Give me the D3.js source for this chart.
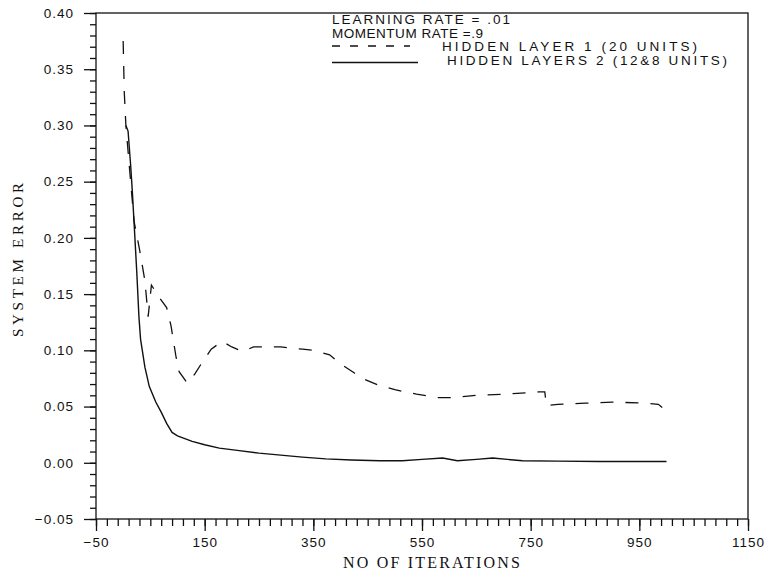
<!DOCTYPE html>
<html>
<head>
<meta charset="utf-8">
<script src="https://cdn.jsdelivr.net/npm/d3@7"></script>
<style>
  body { margin: 0; background: #fff; }
  svg { display: block; }
  .tick text { font-family: "Liberation Sans", Arial, sans-serif; font-size: 13.5px; letter-spacing: 1px; fill: #111; }
  .tick line, .domain { stroke: #111; stroke-width: 1.3; }
</style>
</head>
<body>
<script>
// Hidden layer 1 (20 units) - dashed
const iterH1 = [0, 2, 5, 12, 20, 30, 40, 46, 52, 68, 80, 88, 97, 103, 118, 132, 145, 162, 182, 200, 220, 240, 290, 330, 350, 380, 400, 425, 440, 470, 500, 540, 580, 610, 650, 700, 765, 776, 779, 800, 850, 900, 960, 985, 1000];
const errH1 = [0.375, 0.33, 0.30, 0.26, 0.215, 0.19, 0.162, 0.13, 0.158, 0.146, 0.138, 0.122, 0.095, 0.081, 0.071, 0.079, 0.089, 0.101, 0.108, 0.103, 0.099, 0.103, 0.103, 0.101, 0.100, 0.096, 0.088, 0.080, 0.075, 0.069, 0.065, 0.061, 0.058, 0.058, 0.060, 0.061, 0.063, 0.063, 0.051, 0.052, 0.053, 0.054, 0.053, 0.052, 0.046];

// Hidden layers 2 (12&8 units) - solid
const iterH2 = [5, 9, 14, 17, 20, 25, 29, 32, 40, 48, 60, 70, 80, 90, 100, 127, 150, 177, 210, 250, 290, 330, 373, 420, 472, 514, 550, 588, 615, 650, 680, 735, 800, 877, 1000];
const errH2 = [0.30, 0.295, 0.263, 0.24, 0.214, 0.17, 0.13, 0.11, 0.085, 0.068, 0.054, 0.045, 0.035, 0.027, 0.024, 0.019, 0.016, 0.013, 0.011, 0.0086, 0.0068, 0.005, 0.0035, 0.0025, 0.0018, 0.0018, 0.003, 0.0042, 0.0018, 0.003, 0.0042, 0.0018, 0.0015, 0.0012, 0.0012];

const xMajor = [-50, 150, 350, 550, 750, 950, 1150];
const xMinor = d3.range(-50, 1151, 20);
const yMajor = [-0.05, 0.00, 0.05, 0.10, 0.15, 0.20, 0.25, 0.30, 0.35, 0.40];
const yMinor = d3.range(-5, 41, 1).map(d => d / 100);

const legendLines = ["LEARNING RATE  =  .01", "MOMENTUM  RATE  =.9", "HIDDEN  LAYER  1  (20  UNITS)", "HIDDEN  LAYERS  2  (12&8  UNITS)"];

const W = 771, H = 579;
const margin = { top: 13, right: 23, bottom: 60, left: 96 };

const svg = d3.select("body").append("svg")
    .attr("width", W)
    .attr("height", H);

const x = d3.scaleLinear().domain([-50, 1150]).range([margin.left, W - margin.right]);
const y = d3.scaleLinear().domain([-0.05, 0.40]).range([H - margin.bottom, margin.top]);

// frame
svg.append("rect")
    .attr("x", x(-50))
    .attr("y", y(0.40))
    .attr("width", x(1150) - x(-50))
    .attr("height", y(-0.05) - y(0.40))
    .attr("fill", "none")
    .attr("stroke", "#111")
    .attr("stroke-width", 1.3);

// minor ticks
svg.append("g")
    .attr("transform", `translate(0,${y(-0.05)})`)
    .call(d3.axisBottom(x).tickValues(xMinor).tickSize(7).tickFormat(""))
    .call(g => g.select(".domain").remove());
svg.append("g")
    .attr("transform", `translate(${x(-50)},0)`)
    .call(d3.axisLeft(y).tickValues(yMinor).tickSize(6).tickFormat(""))
    .call(g => g.select(".domain").remove());

// major ticks + labels
svg.append("g")
    .attr("transform", `translate(0,${y(-0.05)})`)
    .call(d3.axisBottom(x).tickValues(xMajor).tickSize(12).tickPadding(6).tickFormat(d3.format("d")))
    .call(g => g.select(".domain").remove());
svg.append("g")
    .attr("transform", `translate(${x(-50)},0)`)
    .call(d3.axisLeft(y).tickValues(yMajor).tickSize(12).tickPadding(10).tickFormat(d3.format(".2f")))
    .call(g => g.select(".domain").remove());

// axis titles
svg.append("text")
    .attr("x", 343)
    .attr("y", 568)
    .attr("textLength", 177)
    .attr("lengthAdjust", "spacing")
    .style("font-family", "'Liberation Serif', 'Times New Roman', serif")
    .style("font-size", "16px")
    .attr("fill", "#111")
    .text("NO  OF  ITERATIONS");

svg.append("text")
    .attr("transform", "translate(23,337) rotate(-90)")
    .attr("textLength", 154)
    .attr("lengthAdjust", "spacing")
    .style("font-family", "'Liberation Serif', 'Times New Roman', serif")
    .style("font-size", "15px")
    .attr("fill", "#111")
    .text("SYSTEM  ERROR");

// curves
const line = d3.line().x(d => x(d[0])).y(d => y(d[1]));

svg.append("path")
    .datum(d3.zip(iterH1, errH1))
    .attr("d", line)
    .attr("fill", "none")
    .attr("stroke", "#111")
    .attr("stroke-width", 1.3)
    .attr("stroke-dasharray", "13,12");

svg.append("path")
    .datum(d3.zip(iterH2, errH2))
    .attr("d", line)
    .attr("fill", "none")
    .attr("stroke", "#111")
    .attr("stroke-width", 1.4);

// legend
const legendFont = "'Liberation Sans', Arial, sans-serif";
const legendX = [332, 332, 442, 447];
const legendY = [24, 37.5, 51, 64.5];
const legendW = [178, 151, 255, 280];
legendLines.forEach((t, i) => {
    svg.append("text")
        .attr("x", legendX[i])
        .attr("y", legendY[i])
        .attr("textLength", legendW[i])
        .attr("lengthAdjust", "spacing")
        .style("font-family", legendFont)
        .style("font-size", "13.5px")
        .attr("fill", "#111")
        .text(t);
});
svg.append("line")
    .attr("x1", 332).attr("x2", 410)
    .attr("y1", 46).attr("y2", 46)
    .attr("stroke", "#111")
    .attr("stroke-width", 1.3)
    .attr("stroke-dasharray", "8,10");
svg.append("line")
    .attr("x1", 332).attr("x2", 418)
    .attr("y1", 62.5).attr("y2", 62.5)
    .attr("stroke", "#111")
    .attr("stroke-width", 1.4);
</script>
</body>
</html>
